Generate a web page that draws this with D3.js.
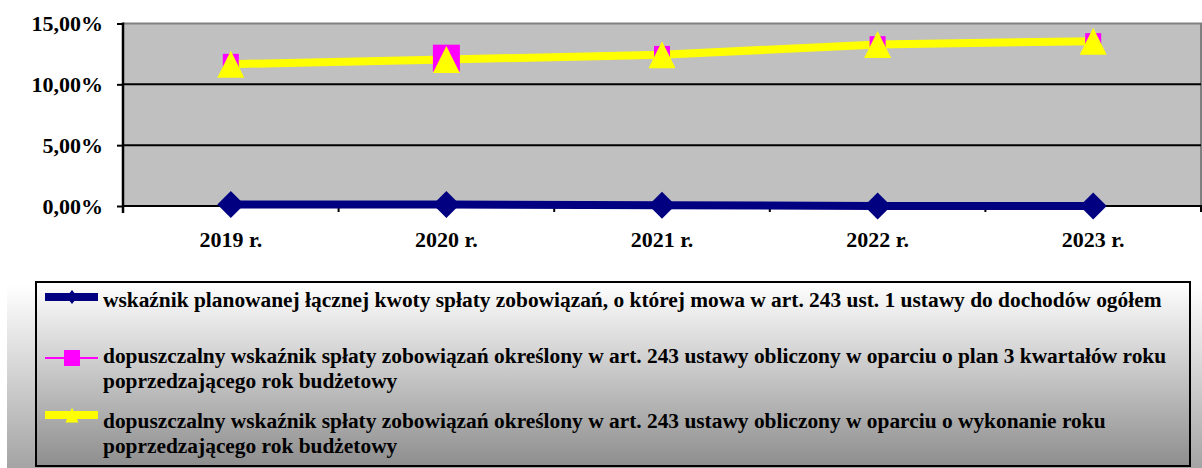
<!DOCTYPE html>
<html>
<head>
<meta charset="utf-8">
<script src="https://cdn.jsdelivr.net/npm/d3@7/dist/d3.min.js"></script>
<style>
  html, body { margin: 0; padding: 0; background: #fff; }
  svg { display: block; }
  text { font-family: "Liberation Serif", "Times New Roman", serif; font-weight: bold; fill: #000; }
</style>
</head>
<body>
<svg id="chart" width="1202" height="468"></svg>
<script>
const categories = ["2019 r.", "2020 r.", "2021 r.", "2022 r.", "2023 r."];
const seriesNames = [
  "wskaźnik planowanej łącznej kwoty spłaty zobowiązań, o której mowa w art. 243 ust. 1 ustawy do dochodów ogółem",
  "dopuszczalny wskaźnik spłaty zobowiązań określony w art. 243 ustawy obliczony w oparciu o plan 3 kwartałów roku|poprzedzającego rok budżetowy",
  "dopuszczalny wskaźnik spłaty zobowiązań określony w art. 243 ustawy obliczony w oparciu o wykonanie roku|poprzedzającego rok budżetowy"
];
const planned = [0.13, 0.13, 0.07, 0.01, 0.01];
const allowedPlan = [11.85, 12.15, 12.5, 13.3, 13.55];
const allowedExec = [11.66, 12.04, 12.43, 13.28, 13.55];
const yTicks = [0, 5, 10, 15];

const svg = d3.select("#chart");
const W = 1202, H = 468;
const plot = { left: 123, right: 1201, top: 23.5, bottom: 206 };

const defs = svg.append("defs");
const g1 = defs.append("linearGradient").attr("id", "bgGrad").attr("x1", 0).attr("y1", 0).attr("x2", 0).attr("y2", 1);
g1.append("stop").attr("offset", "0%").attr("stop-color", "#ffffff");
g1.append("stop").attr("offset", "100%").attr("stop-color", "#a4a4a4");
const g2 = defs.append("linearGradient").attr("id", "legGrad").attr("x1", 0).attr("y1", 0).attr("x2", 0).attr("y2", 1);
g2.append("stop").attr("offset", "0%").attr("stop-color", "#ffffff");
g2.append("stop").attr("offset", "100%").attr("stop-color", "#8e8e8e");

// bottom background gradient
svg.append("rect").attr("x", 7).attr("y", 285).attr("width", W - 7).attr("height", H - 285).attr("fill", "url(#bgGrad)");

const x = d3.scaleBand().domain(categories).range([plot.left, plot.right]).padding(0);
const cx = c => x(c) + x.bandwidth() / 2;
const y = d3.scaleLinear().domain([0, 15]).range([plot.bottom, plot.top]);

// plot area
svg.append("rect").attr("x", plot.left).attr("y", plot.top).attr("width", plot.right - plot.left).attr("height", plot.bottom - plot.top).attr("fill", "#c0c0c0");
svg.append("line").attr("x1", plot.left).attr("x2", plot.right + 1).attr("y1", plot.top).attr("y2", plot.top).attr("stroke", "#808080").attr("stroke-width", 2);
svg.append("line").attr("x1", plot.right).attr("x2", plot.right).attr("y1", plot.top).attr("y2", plot.bottom).attr("stroke", "#808080").attr("stroke-width", 2);

// gridlines
svg.append("g").selectAll("line").data(yTicks.filter(t => t > 0 && t < 15)).join("line")
  .attr("x1", plot.left).attr("x2", plot.right).attr("y1", d => y(d)).attr("y2", d => y(d))
  .attr("stroke", "#000").attr("stroke-width", 2);

// x axis line + ticks at band boundaries
svg.append("line").attr("x1", plot.left).attr("x2", plot.right + 1).attr("y1", plot.bottom).attr("y2", plot.bottom).attr("stroke", "#000").attr("stroke-width", 2);
const bounds = categories.map(c => x(c)).concat([plot.right]);
svg.append("g").selectAll("line").data(bounds).join("line")
  .attr("x1", d => d).attr("x2", d => d).attr("y1", plot.bottom).attr("y2", plot.bottom + 6)
  .attr("stroke", "#000").attr("stroke-width", 2);

// x labels
svg.append("g").selectAll("text").data(categories).join("text")
  .attr("x", d => cx(d)).attr("y", 247).attr("text-anchor", "middle")
  .style("font-size", "22px").text(d => d);

// y axis
const yAxis = d3.axisLeft(y).tickValues(yTicks).tickSize(6).tickPadding(14)
  .tickFormat(d => d.toFixed(2).replace(".", ",") + "%");
const ya = svg.append("g").attr("transform", `translate(${plot.left},0)`).call(yAxis);
ya.select(".domain").remove();
ya.selectAll(".tick line").attr("stroke", "#000").attr("stroke-width", 2);
ya.selectAll(".tick text").style("font-size", "22px").attr("fill", "#000")
  .style("font-family", '"Liberation Serif", "Times New Roman", serif').style("font-weight", "bold");
svg.append("line").attr("x1", plot.left).attr("x2", plot.left).attr("y1", plot.top - 1).attr("y2", plot.bottom + 7).attr("stroke", "#000").attr("stroke-width", 2.5);

// lines
const line = d3.line().x((d, i) => cx(categories[i])).y(d => y(d));
svg.append("path").datum(planned).attr("d", line).attr("fill", "none").attr("stroke", "#000080").attr("stroke-width", 8);
svg.append("path").datum(allowedPlan).attr("d", line).attr("fill", "none").attr("stroke", "#ff00ff").attr("stroke-width", 2);
svg.append("path").datum(allowedExec).attr("d", line).attr("fill", "none").attr("stroke", "#ffff00").attr("stroke-width", 8);

// markers
const diamond = (px, py, w, h) => `M${px},${py - h / 2}L${px + w / 2},${py}L${px},${py + h / 2}L${px - w / 2},${py}Z`;
const tri = (px, py, w, h) => `M${px},${py - h / 2}L${px + w / 2},${py + h / 2}L${px - w / 2},${py + h / 2}Z`;

svg.append("g").selectAll("path").data(planned).join("path")
  .attr("d", (d, i) => diamond(cx(categories[i]), y(d), 27, 27)).attr("fill", "#000080");
const bigSquareIndex = 1;
svg.append("g").selectAll("rect").data(allowedPlan).join("rect")
  .attr("x", (d, i) => cx(categories[i]) - (i === bigSquareIndex ? 13.5 : 8))
  .attr("y", (d, i) => y(d) - (i === bigSquareIndex ? 13.5 : 8))
  .attr("width", (d, i) => i === bigSquareIndex ? 27 : 16)
  .attr("height", (d, i) => i === bigSquareIndex ? 27 : 16)
  .attr("fill", "#ff00ff");
svg.append("g").selectAll("path").data(allowedExec).join("path")
  .attr("d", (d, i) => tri(cx(categories[i]), y(d), 27, 27)).attr("fill", "#ffff00");

// legend
const leg = { x: 36, y: 282, w: 1154, h: 184 };
svg.append("rect").attr("x", leg.x).attr("y", leg.y).attr("width", leg.w).attr("height", leg.h)
  .attr("fill", "url(#legGrad)").attr("stroke", "#000").attr("stroke-width", 2);

const legendRows = [
  { sy: 297, ty: [307], color: "#000080", sw: 8, marker: "diamond" },
  { sy: 358, ty: [363, 388], color: "#ff00ff", sw: 2, marker: "square" },
  { sy: 415, ty: [428, 453], color: "#ffff00", sw: 8, marker: "triangle" }
];
const lg = svg.append("g");
const textStretch = 1.07;
legendRows.forEach((r, i) => {
  lg.append("line").attr("x1", 45).attr("x2", 98).attr("y1", r.sy).attr("y2", r.sy).attr("stroke", r.color).attr("stroke-width", r.sw);
  if (r.marker === "diamond") lg.append("path").attr("d", diamond(72, r.sy, 11, 14)).attr("fill", r.color);
  if (r.marker === "square") lg.append("rect").attr("x", 64).attr("y", r.sy - 8).attr("width", 16).attr("height", 16).attr("fill", r.color);
  if (r.marker === "triangle") lg.append("path").attr("d", tri(72, r.sy, 13, 15)).attr("fill", r.color);
  const lines = seriesNames[i].split("|");
  lines.forEach((t, j) => {
    lg.append("text").attr("transform", `translate(103,${r.ty[j]}) scale(${textStretch},1)`)
      .style("font-size", "20px").text(t);
  });
});
</script>
</body>
</html>
